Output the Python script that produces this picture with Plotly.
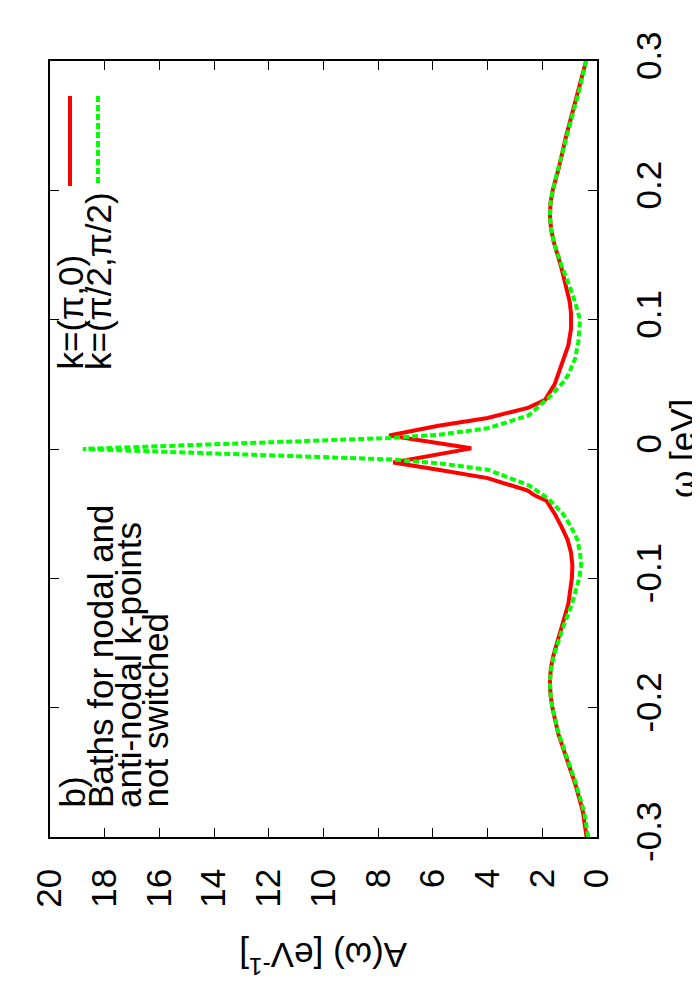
import plotly.graph_objects as go

# ---- data ----
omega_pi0 = [-0.300, -0.280, -0.260, -0.240, -0.220, -0.200, -0.190, -0.180, -0.170, -0.160,
             -0.140, -0.120, -0.100, -0.090, -0.080, -0.070, -0.060, -0.050, -0.040, -0.036,
             -0.032, -0.0225, -0.016, -0.0105, 0.0005, 0.0105, 0.018, 0.024, 0.032, 0.038,
             0.050, 0.065, 0.080, 0.093, 0.105, 0.114, 0.130, 0.140, 0.160, 0.170,
             0.180, 0.190, 0.200, 0.217, 0.240, 0.256, 0.280, 0.300]
A_pi0 = [0.38, 0.52, 0.78, 1.10, 1.42, 1.63, 1.70, 1.72, 1.69, 1.60,
         1.32, 1.05, 0.92, 0.90, 0.95, 1.08, 1.30, 1.55, 1.85, 2.27,
         2.55, 4.0, 5.8, 7.45, 4.6, 7.6, 5.8, 4.0, 2.5, 1.9,
         1.55, 1.3, 1.05, 0.95, 0.95, 1.0, 1.18, 1.3, 1.58, 1.68,
         1.72, 1.70, 1.62, 1.4, 1.15, 0.95, 0.62, 0.40]

omega_node = [-0.300, -0.280, -0.260, -0.240, -0.220, -0.200, -0.190, -0.180, -0.170, -0.160,
              -0.140, -0.120, -0.100, -0.090, -0.080, -0.070, -0.060, -0.050, -0.038, -0.028,
              -0.016, -0.011, -0.008, 0.000, 0.0085, 0.011, 0.016, 0.026, 0.039, 0.050,
              0.057, 0.070, 0.083, 0.100, 0.119, 0.142, 0.160, 0.170, 0.180, 0.190,
              0.200, 0.220, 0.240, 0.260, 0.280, 0.300]
A_node = [0.32, 0.48, 0.75, 1.08, 1.40, 1.63, 1.70, 1.72, 1.68, 1.58,
          1.28, 0.92, 0.65, 0.58, 0.62, 0.72, 0.95, 1.25, 1.8, 2.5,
          4.0, 5.8, 7.6, 18.8, 7.6, 5.8, 4.0, 2.5, 1.8, 1.3,
          1.06, 0.8, 0.68, 0.62, 0.88, 1.3, 1.58, 1.68, 1.72, 1.70,
          1.62, 1.38, 1.12, 0.88, 0.62, 0.40]

A_ticks = [0, 2, 4, 6, 8, 10, 12, 14, 16, 18, 20]
A_tick_text = ["0", "2", "4", "6", "8", "10", "12", "14", "16", "18", "20"]
w_ticks = [-0.3, -0.2, -0.1, 0.0, 0.1, 0.2, 0.3]
w_tick_text = ["-0.3", "-0.2", "-0.1", "0", "0.1", "0.2", "0.3"]

legend_names = ["k=(\u03c0,0)", "k=(\u03c0/2,\u03c0/2)"]
label_lines = ["b)", "Baths for nodal and", "anti-nodal k-points", "not switched"]

# ---- layout constants ----
W, H = 700, 1000
L, R, T, B = 42, 589, 53, 829
FONT = "Liberation Sans, Arial, Helvetica, sans-serif"
FS = 35

def px(x):
    return (x - L) / (R - L)

def py(y):
    return (B - y) / (B - T)

fig = go.Figure()
fig.add_trace(go.Scatter(x=A_pi0, y=omega_pi0, mode="lines",
                         line=dict(color="#ff0000", width=4), showlegend=False))
fig.add_trace(go.Scatter(x=A_node, y=omega_node, mode="lines",
                         line=dict(color="#00ff00", width=4, dash="6px,3px"), showlegend=False))

axis_common = dict(showgrid=False, zeroline=False, showline=True, linecolor="black",
                   linewidth=1.5, mirror="allticks", ticks="inside", ticklen=9,
                   tickwidth=1.3, tickcolor="black",
                   tickfont=dict(family=FONT, size=FS, color="black"))

fig.update_xaxes(range=[20, 0], tickvals=A_ticks, ticktext=A_tick_text,
                 tickangle=-90, ticklabelstandoff=16, **axis_common)
fig.update_yaxes(range=[-0.3, 0.3], tickvals=w_ticks, ticktext=w_tick_text,
                 side="right", tickangle=-90, ticklabelstandoff=20, **axis_common)

annotations = []
# axis titles
annotations.append(dict(x=px(315), y=py(950), xref="paper", yref="paper",
                        text="A(\u03c9) [eV<sup>-1</sup>]", textangle=180, showarrow=False,
                        font=dict(family=FONT, size=FS, color="black"),
                        xanchor="center", yanchor="middle"))
annotations.append(dict(x=px(674), y=py(441), xref="paper", yref="paper",
                        text="\u03c9 [eV]", textangle=-90, showarrow=False,
                        font=dict(family=FONT, size=FS, color="black"),
                        xanchor="center", yanchor="middle", borderpad=0))
# panel label lines
line_x = [64, 92, 120, 147]
for txt, lx in zip(label_lines, line_x):
    annotations.append(dict(x=px(lx), y=py(802), xref="paper", yref="paper",
                            text=txt, textangle=-90, showarrow=False,
                            font=dict(family=FONT, size=FS, color="black"),
                            xanchor="center", yanchor="bottom"))

# legend (rotated, drawn manually)
leg_x = [62, 90]
leg_colors = ["#ff0000", "#00ff00"]
leg_dash = ["solid", "6px,3px"]
shapes = []
for name, lx, col, dsh in zip(legend_names, leg_x, leg_colors, leg_dash):
    shapes.append(dict(type="line", xref="paper", yref="paper",
                       x0=px(lx), x1=px(lx), y0=py(88), y1=py(178),
                       line=dict(color=col, width=4, dash=dsh)))
    annotations.append(dict(x=px(lx), y=py(364), xref="paper", yref="paper",
                            text=name, textangle=-90, showarrow=False,
                            font=dict(family=FONT, size=FS, color="black"),
                            xanchor="center", yanchor="bottom"))

fig.update_layout(width=W, height=H, margin=dict(l=L, r=W - R, t=T, b=H - B),
                  paper_bgcolor="white", plot_bgcolor="white",
                  annotations=annotations, shapes=shapes, showlegend=False)

fig.write_html("out.html")
